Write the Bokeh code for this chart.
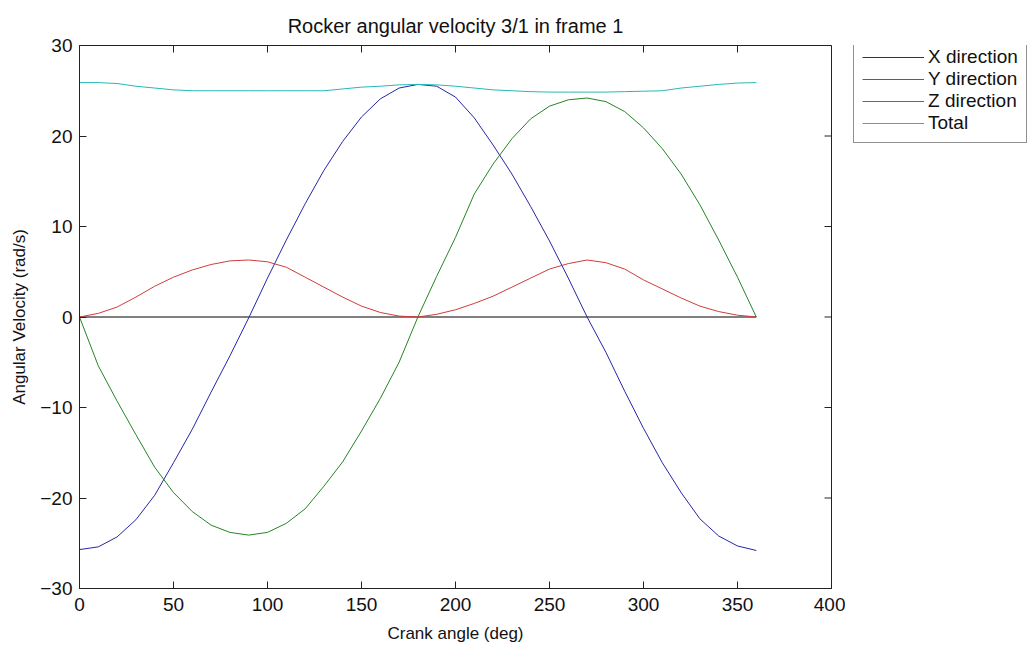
import math
from bokeh.plotting import figure
from bokeh.layouts import row
from bokeh.models import Range1d, FixedTicker, Legend, LegendItem
from bokeh.embed import file_html
from bokeh.resources import INLINE

# ---- data ----
crank_angle = [0, 10, 20, 30, 40, 50, 60, 70, 80, 90, 100, 110, 120, 130, 140, 150, 160, 170, 180,
               190, 200, 210, 220, 230, 240, 250, 260, 270, 280, 290, 300, 310, 320, 330, 340, 350, 360]

x_direction = [-25.7, -25.4, -24.3, -22.4, -19.7, -16.1, -12.4, -8.3, -4.3, -0.1, 4.3, 8.5, 12.5, 16.2,
               19.4, 22.1, 24.1, 25.3, 25.7, 25.5, 24.3, 22.0, 19.0, 15.8, 12.2, 8.4, 4.3, 0.0, -3.9,
               -8.2, -12.3, -16.1, -19.4, -22.3, -24.2, -25.3, -25.8]

y_direction = [0.0, -5.4, -9.3, -13.0, -16.6, -19.4, -21.5, -23.0, -23.8, -24.1, -23.8, -22.8, -21.2,
               -18.7, -16.0, -12.6, -9.0, -5.0, 0.0, 4.5, 8.8, 13.6, 16.9, 19.7, 21.9, 23.3, 24.0, 24.2,
               23.8, 22.7, 20.9, 18.6, 15.8, 12.4, 8.5, 4.4, 0.0]

z_direction = [0.0, 0.4, 1.1, 2.2, 3.4, 4.4, 5.2, 5.8, 6.2, 6.3, 6.1, 5.5, 4.4, 3.3, 2.2, 1.2, 0.5, 0.1,
               0.0, 0.3, 0.8, 1.5, 2.3, 3.3, 4.3, 5.3, 5.9, 6.3, 6.0, 5.3, 4.1, 3.1, 2.1, 1.2, 0.6, 0.2, 0.0]

total = [25.9, 25.9, 25.8, 25.5, 25.3, 25.1, 25.0, 25.0, 25.0, 25.0, 25.0, 25.0, 25.0, 25.0, 25.2, 25.4,
         25.5, 25.65, 25.7, 25.65, 25.5, 25.3, 25.1, 25.0, 24.9, 24.85, 24.85, 24.85, 24.85, 24.9, 24.95,
         25.0, 25.3, 25.5, 25.7, 25.85, 25.9]

baseline_x = [0, 360]
baseline_y = [0, 0]

x_ticks = [0, 50, 100, 150, 200, 250, 300, 350, 400]
y_ticks = [-30, -20, -10, 0, 10, 20, 30]
x_lim = (0, 400)
y_lim = (-30, 30)

series_names = ["X direction", "Y direction", "Z direction", "Total"]
series_colors = ["#2626a6", "#258525", "#d03c3c", "#26b8b8"]
series_values = [x_direction, y_direction, z_direction, total]

FONT = "Liberation Sans"
TXT = "#111111"
AX = "#222222"

# ---- main chart ----
p = figure(width=845, height=648, output_backend="svg", toolbar_location=None,
           x_range=Range1d(*x_lim), y_range=Range1d(*y_lim),
           min_border_left=79, min_border_right=14, min_border_top=45, min_border_bottom=60,
           background_fill_color="white", border_fill_color="white")

p.xgrid.visible = False
p.ygrid.visible = False
p.outline_line_color = AX
p.outline_line_width = 1

p.title.text = "Rocker angular velocity 3/1 in frame 1"
p.title.align = "center"
p.title.text_font = FONT
p.title.text_font_size = "20px"
p.title.text_font_style = "normal"
p.title.text_color = TXT
p.title.standoff = 18

for ax in (p.xaxis[0], p.yaxis[0]):
    ax.axis_line_color = AX
    ax.major_tick_line_color = AX
    ax.major_tick_in = 7
    ax.major_tick_out = 0
    ax.minor_tick_line_color = None
    ax.major_label_text_font = FONT
    ax.major_label_text_color = TXT
    ax.major_label_text_font_size = "19px"
    ax.axis_label_text_font = FONT
    ax.axis_label_text_color = TXT
    ax.axis_label_text_font_style = "normal"
    ax.axis_label_text_font_size = "17px"

p.xaxis.ticker = FixedTicker(ticks=x_ticks)
p.yaxis.ticker = FixedTicker(ticks=y_ticks)
p.xaxis.axis_label = "Crank angle (deg)"
p.yaxis.axis_label = "Angular Velocity (rad/s)"
p.xaxis.major_label_standoff = 9
p.yaxis.major_label_standoff = 7
p.xaxis.axis_label_standoff = 10
p.yaxis.axis_label_standoff = 8

# inward ticks on the top and right edges of the box
p.ray(x=x_ticks, y=[y_lim[1]] * len(x_ticks), length=7, length_units="screen",
      angle=-math.pi / 2, line_color=AX, line_width=1)
p.ray(x=[x_lim[1]] * len(y_ticks), y=y_ticks, length=7, length_units="screen",
      angle=math.pi, line_color=AX, line_width=1)

p.line(baseline_x, baseline_y, line_color="black", line_width=1)

for ys, c in zip(series_values, series_colors):
    p.line(crank_angle, ys, line_color=c, line_width=1)

# ---- legend panel (outside the axes box, to the right) ----
# the series are drawn here again but outside this panel's range, only to feed the legend keys
lg = figure(width=189, height=648, output_backend="svg", toolbar_location=None,
            x_range=Range1d(1000, 1001), y_range=Range1d(1000, 1001),
            x_axis_type=None, y_axis_type=None,
            min_border=0, outline_line_color=None,
            background_fill_color="white", border_fill_color="white")
lg.xgrid.visible = False
lg.ygrid.visible = False

legend_renderers = []
for ys, c in zip(series_values, series_colors):
    legend_renderers.append(lg.line(crank_angle, ys, line_color=c, line_width=1))

legend = Legend(items=[LegendItem(label=n, renderers=[r]) for n, r in zip(series_names, legend_renderers)],
                location=(8, 445))
legend.border_line_color = AX
legend.border_line_width = 1
legend.background_fill_color = "white"
legend.background_fill_alpha = 1
legend.label_text_font = FONT
legend.label_text_font_size = "19px"
legend.label_text_color = TXT
legend.glyph_width = 62
legend.glyph_height = 20
legend.label_height = 20
legend.label_standoff = 4
legend.spacing = 0
legend.padding = 8
legend.margin = 0
lg.add_layout(legend)

layout = row(p, lg)
open("out.html", "w").write(file_html(layout, INLINE))
